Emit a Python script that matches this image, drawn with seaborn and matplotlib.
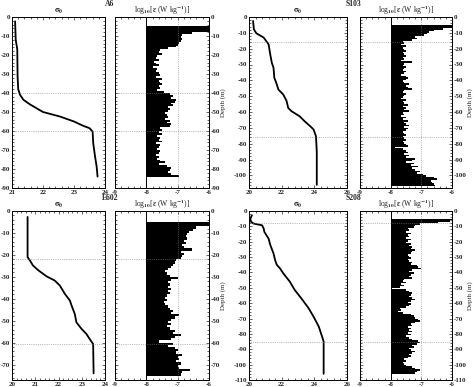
import numpy as np
import matplotlib
matplotlib.use("Agg")
import matplotlib.pyplot as plt
from matplotlib.ticker import AutoMinorLocator, MultipleLocator
import seaborn as sns

sns.set_style("ticks")
plt.rcParams["font.family"] = ["Liberation Serif", "DejaVu Serif"]
plt.rcParams["font.weight"] = "bold"
plt.rcParams["mathtext.fontset"] = "stix"
plt.rcParams["mathtext.default"] = "bf"
plt.rcParams["axes.unicode_minus"] = False

# ---- station A6 ----
a6_sig_depth = [2.3, 12, 17, 31, 38, 41, 43.6, 46, 50, 52.4, 55, 57.3, 58.5, 60.3, 66.4, 73.5, 78.7, 84]
a6_sig = [21.1, 21.12, 21.17, 21.18, 21.2, 21.26, 21.37, 21.58, 22.0, 22.55, 23.0, 23.3, 23.5, 23.6, 23.62, 23.68, 23.73, 23.76]
a6_eps_top = 5
a6_eps = [-6.0, -6.0, -6.0, -6.55, -6.85, -6.9, -6.85, -6.9, -6.95, -7.0, -7.05, -7.3, -7.55, -7.6, -7.5,
          -7.65, -7.7, -7.6, -7.75, -7.7, -7.6, -7.8, -7.65, -7.7, -7.6, -7.55, -7.7, -7.5, -7.6, -7.55,
          -7.5, -7.6, -7.55, -7.65, -7.45, -7.25, -7.15, -7.2, -7.05, -7.1, -7.2, -7.15, -7.3, -7.25, -7.3,
          -7.4, -7.35, -7.3, -7.4, -7.25, -7.35, -7.2, -7.25, -7.55, -7.5, -7.6, -7.5, -7.65, -7.55, -7.6,
          -7.5, -7.7, -7.55, -7.6, -7.65, -7.55, -7.6, -7.7, -7.6, -7.65, -7.55, -7.4, -7.6, -7.35, -7.2,
          -7.25, -7.3, -7.2, -6.95]
a6_marks = [40, 60]

# ---- station S103 ----
s103_sig_depth = [2.5, 7.8, 10.3, 13, 17.3, 23.6, 29, 32, 38.4, 41.6, 45.8, 49, 53, 57.4, 59.5, 62.7, 65.8, 69, 71, 75.3, 85, 106]
s103_sig = [20.25, 20.3, 20.45, 20.9, 21.2, 21.3, 21.4, 21.5, 21.55, 21.67, 21.8, 22.1, 22.3, 22.4, 22.6, 23.1, 23.4, 23.75, 23.95, 24.1, 24.15, 24.15]
s103_eps_top = 5
s103_eps = [-6.0, -6.0, -6.3, -6.6, -6.75, -6.8, -6.9, -7.2, -7.15, -7.3, -7.6, -7.55, -7.65, -7.5, -7.6,
            -7.55, -7.5, -7.6, -7.55, -7.5, -7.6, -7.55, -7.65, -7.3, -7.55, -7.6, -7.5, -7.55, -7.6, -7.5,
            -7.55, -7.65, -7.5, -7.45, -7.5, -7.6, -7.55, -7.4, -7.5, -7.45, -7.3, -7.55, -7.6, -7.5, -7.55,
            -7.6, -7.65, -7.5, -7.6, -7.55, -7.45, -7.6, -7.5, -7.55, -7.4, -7.6, -7.55, -7.65, -7.5, -7.6,
            -7.45, -7.55, -7.5, -7.4, -7.55, -7.45, -7.5, -7.6, -7.55, -7.5, -7.6, -7.55, -7.5, -7.6, -7.55,
            -7.5, -7.45, -7.85, -7.6, -7.5, -7.45, -7.55, -7.4, -7.5, -7.2, -7.3, -7.5, -7.25, -7.35, -7.1,
            -7.3, -7.2, -7.05, -7.15, -6.95, -6.85, -6.6, -6.5, -6.7, -6.65, -6.6, -6.55]
s103_marks = [16, 76]

# ---- station E602 ----
e602_sig_depth = [2.7, 21, 22.5, 24.8, 27, 29.8, 31.7, 34, 37.7, 40.8, 43, 46.9, 50.7, 53.7, 56, 58.3, 60.6, 74]
e602_sig = [20.67, 20.67, 20.77, 20.9, 21.13, 21.49, 21.84, 22.06, 22.27, 22.49, 22.56, 22.7, 22.77, 22.99, 23.2, 23.34, 23.49, 23.51]
e602_eps_top = 5
e602_eps = [-6.0, -6.0, -6.4, -6.5, -6.65, -6.7, -6.75, -6.7, -6.8, -6.75, -6.85, -6.8, -6.55, -6.9, -6.8,
            -6.85, -6.9, -7.05, -7.1, -7.15, -7.2, -7.3, -7.4, -7.35, -7.25, -7.0, -7.2, -7.3, -7.25, -7.3,
            -7.2, -7.3, -7.25, -7.35, -7.4, -7.35, -7.45, -7.4, -7.3, -7.25, -7.15, -7.2, -6.95, -7.1, -7.2,
            -7.3, -7.2, -7.35, -7.25, -7.1, -7.15, -6.9, -7.1, -7.2, -7.6, -7.15, -7.3, -7.1, -7.0, -7.05,
            -6.85, -7.0, -6.95, -7.05, -6.9, -7.0, -6.95, -6.6, -6.85, -6.9]
e602_marks = [22, 60.5]

# ---- station S208 ----
s208_sig_depth = [2.8, 5, 7, 8.2, 9.3, 11.4, 13.6, 18, 22, 27.6, 32, 35, 37.4, 40.6, 46, 51.4, 56.8, 63.3, 68.7, 75.2, 81.6, 85, 106]
s208_sig = [20.18, 20.08, 20.12, 20.29, 20.8, 20.9, 20.94, 21.2, 21.3, 21.5, 21.6, 21.7, 21.9, 22.1, 22.5, 22.8, 23.2, 23.65, 23.95, 24.27, 24.47, 24.57, 24.57]
s208_eps_top = 5
s208_eps = [-6.0, -6.05, -6.45, -7.05, -7.2, -7.25, -7.45, -7.4, -7.5, -7.35, -7.45, -7.4, -7.5, -7.35, -7.45,
            -7.5, -7.35, -7.4, -7.3, -7.35, -7.2, -7.3, -7.35, -7.45, -7.4, -7.35, -7.45, -7.4, -7.3, -7.35,
            -7.15, -7.1, -7.0, -7.3, -7.4, -7.25, -7.35, -7.4, -7.3, -7.55, -7.6, -7.5, -7.65, -7.55, -7.7,
            -7.95, -7.5, -7.4, -7.3, -7.35, -7.4, -7.3, -7.2, -7.35, -7.45, -7.35, -7.4, -7.5, -7.7, -7.65,
            -7.75, -7.6, -7.35, -7.25, -7.2, -7.1, -7.05, -7.2, -7.35, -7.3, -7.45, -7.35, -7.4, -7.3, -7.45,
            -7.35, -7.5, -7.4, -7.3, -7.1, -7.05, -7.15, -7.3, -7.25, -7.4, -7.35, -7.2, -7.3, -7.4, -7.35,
            -7.45, -7.55, -7.5, -7.6, -7.55, -7.5, -7.3, -7.2, -7.05, -7.15, -7.2]
s208_marks = [8, 85]

W, H = 474, 387


def px_axes(fig, left, right, top, bottom):
    return fig.add_axes([left / W, 1 - bottom / H, (right - left) / W, (bottom - top) / H])


def style_axes(ax):
    ax.tick_params(which="both", direction="in", top=True, right=True,
                   labelsize=5, pad=1.5, width=0.5)
    ax.tick_params(which="major", length=2.5)
    ax.tick_params(which="minor", length=1.4)
    for sp in ax.spines.values():
        sp.set_linewidth(0.7)
        sp.set_color("black")


def draw_station(fig, name, cols, top, bottom, sig_depth, sig, sig_xlim, sig_step,
                 eps_top, eps, ylim, marks):
    ax_s = px_axes(fig, cols[0], cols[1], top, bottom)
    ax_e = px_axes(fig, cols[2], cols[3], top, bottom)

    sns.lineplot(x=sig, y=-np.asarray(sig_depth), sort=False, orient="y", estimator=None,
                 color="black", lw=1.3, ax=ax_s)
    ax_s.set_xlim(*sig_xlim)
    ax_s.set_ylim(ylim, 0)
    ax_s.xaxis.set_major_locator(MultipleLocator(sig_step))
    ax_s.xaxis.set_minor_locator(AutoMinorLocator(5))
    ax_s.yaxis.set_major_locator(MultipleLocator(10))
    ax_s.yaxis.set_minor_locator(AutoMinorLocator(5))
    ax_s.set_xlabel("")
    ax_s.set_ylabel("")
    style_axes(ax_s)

    depth = eps_top + np.arange(len(eps))
    eps = np.asarray(eps)
    ax_e.barh(-(depth + 0.5), eps + 8, left=-8, height=1.0, color="black", lw=0)
    ax_e.axvline(-8, color="black", lw=0.7)
    ax_e.axvline(-7, color="gray", lw=0.5, ls=":")
    ax_e.set_xlim(-9, -6)
    ax_e.set_ylim(ylim, 0)
    ax_e.xaxis.set_major_locator(MultipleLocator(1))
    ax_e.xaxis.set_minor_locator(AutoMinorLocator(5))
    ax_e.yaxis.set_major_locator(MultipleLocator(10))
    ax_e.yaxis.set_minor_locator(AutoMinorLocator(5))
    style_axes(ax_e)
    ax_e.tick_params(labelleft=False, labelright=True)
    ax_e.yaxis.set_label_position("right")
    ax_e.set_ylabel("Depth (m)", fontsize=5, labelpad=0)

    for m in marks:
        ax_s.axhline(-m, color="gray", lw=0.5, ls=":")
        ax_e.axhline(-m, color="gray", lw=0.5, ls=":")

    ax_s.set_title(r"$\sigma_\theta$", fontsize=6, pad=3)
    ax_e.set_title(r"log$_{10}$[$\epsilon$ (W kg$^{-1}$)]", fontsize=5.5, pad=3)
    xc = (cols[1] + cols[2]) / 2 / W
    fig.text(xc, 1 - (top - 13) / H, name, ha="center", va="center", fontsize=5.5)


fig = plt.figure(figsize=(W / 100, H / 100), dpi=100)

left_cols = (12, 105, 115, 209)
right_cols = (249, 347, 360, 452)

draw_station(fig, "A6", left_cols, 17, 188, a6_sig_depth, a6_sig, (21, 24), 1,
             a6_eps_top, a6_eps, -90, a6_marks)
draw_station(fig, "S103", right_cols, 17, 188, s103_sig_depth, s103_sig, (20, 26), 2,
             s103_eps_top, s103_eps, -108, s103_marks)
draw_station(fig, "E602", left_cols, 211, 380, e602_sig_depth, e602_sig, (20, 24), 1,
             e602_eps_top, e602_eps, -77, e602_marks)
draw_station(fig, "S208", right_cols, 211, 380, s208_sig_depth, s208_sig, (20, 26), 2,
             s208_eps_top, s208_eps, -110, s208_marks)

fig.savefig("out.png", dpi=100)
